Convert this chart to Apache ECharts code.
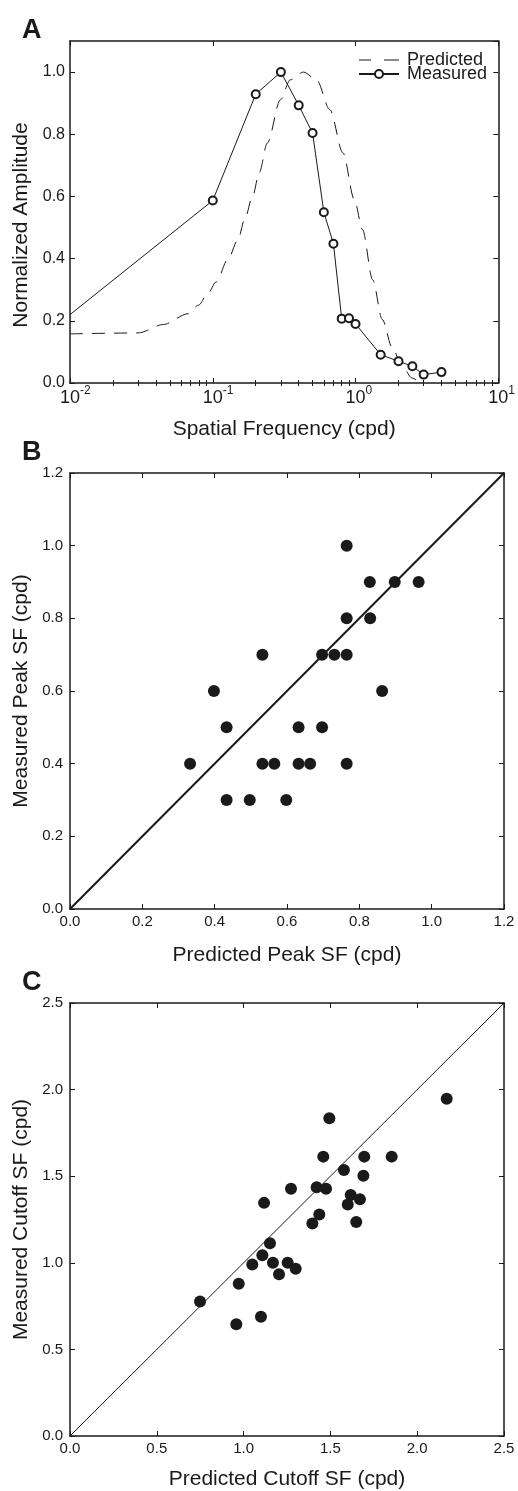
<!DOCTYPE html>
<html>
<head>
<meta charset="utf-8">
<script src="https://cdn.jsdelivr.net/npm/echarts@6/dist/echarts.min.js"></script>
<style>
html,body{margin:0;padding:0;background:#fff;}
#c{width:518px;height:1491px;}
</style>
</head>
<body>
<div id="c"></div>
<script>
// ---- Panel A data ----
const sfMeasured  = [0.01, 0.1, 0.2, 0.3, 0.4, 0.5, 0.6, 0.7, 0.8, 0.9, 1.0, 1.5, 2.0, 2.5, 3.0, 4.0];
const ampMeasured = [0.22, 0.587, 0.929, 1.0, 0.893, 0.804, 0.549, 0.448, 0.207, 0.208, 0.19, 0.091, 0.07, 0.054, 0.027, 0.035];
const sfPredicted  = [0.01, 0.03, 0.045, 0.0674, 0.0792, 0.093, 0.1055, 0.1275, 0.15, 0.167, 0.19, 0.2115, 0.241, 0.298, 0.349, 0.432, 0.534, 0.661, 0.817, 0.982, 1.12, 1.318, 1.54, 1.81, 2.12, 2.49, 2.84];
const ampPredicted = [0.158, 0.161, 0.188, 0.223, 0.25, 0.29, 0.325, 0.397, 0.46, 0.525, 0.60, 0.676, 0.772, 0.911, 0.975, 1.0, 0.975, 0.879, 0.74, 0.589, 0.493, 0.332, 0.204, 0.113, 0.054, 0.016, 0.0];
const minorTicksA = [0.02,0.03,0.04,0.05,0.06,0.07,0.08,0.09,0.2,0.3,0.4,0.5,0.6,0.7,0.8,0.9,2,3,4,5,6,7,8,9];

// ---- Panel B data ----
const predPeak = [0.765,0.829,0.898,0.964,0.765,0.830,0.532,0.697,0.731,0.765,0.398,0.863,0.433,0.632,0.697,0.332,0.532,0.565,0.632,0.664,0.765,0.433,0.497,0.598];
const measPeak = [1.0,0.9,0.9,0.9,0.8,0.8,0.7,0.7,0.7,0.7,0.6,0.6,0.5,0.5,0.5,0.4,0.4,0.4,0.4,0.4,0.4,0.3,0.3,0.3];
const identityB = [[0, 0], [1.2, 1.2]];

// ---- Panel C data ----
const predCut = [2.17,1.494,1.459,1.695,1.853,1.578,1.69,1.273,1.421,1.475,1.617,1.67,1.6,1.118,1.436,1.396,1.649,1.152,1.108,1.05,1.169,1.254,1.3,1.204,0.972,0.749,1.1,0.958];
const measCut = [1.947,1.834,1.613,1.613,1.613,1.536,1.503,1.427,1.436,1.427,1.392,1.367,1.336,1.346,1.279,1.227,1.236,1.113,1.044,0.99,1.0,1.0,0.965,0.934,0.879,0.777,0.689,0.645];
const identityC = [[0, 0], [2.5, 2.5]];

const FONT = '"Liberation Sans", Arial, Helvetica, sans-serif';
const INK = '#1a1a1a';
const lineStyleAx = {color: INK, width: 1.5};
const fmt1 = v => v.toFixed(1);

function mainAxis(grid, pos, o) {
  return Object.assign({
    gridIndex: grid, position: pos, type: 'value',
    axisLine: {show: true, onZero: false, lineStyle: lineStyleAx},
    axisTick: {show: true, inside: true, length: 5, lineStyle: {color: INK, width: 1}},
    axisLabel: {show: true, color: INK, fontFamily: FONT, fontSize: 15, margin: pos === 'left' ? 7 : 5, formatter: fmt1},
    splitLine: {show: false},
    nameLocation: 'middle',
    nameTextStyle: {color: INK, fontFamily: FONT, fontSize: 21},
  }, o);
}
function mirrorAxis(grid, pos, o) {
  return Object.assign({
    gridIndex: grid, position: pos, type: 'value',
    axisLine: {show: true, onZero: false, lineStyle: lineStyleAx},
    axisTick: {show: true, inside: true, length: 5, lineStyle: {color: INK, width: 1}},
    axisLabel: {show: false},
    splitLine: {show: false},
  }, o);
}

function logLabel(v) {
  const e = String(Math.round(Math.log10(v)));
  return '{p|}{b|10}{s|' + e + '}';
}
function supWidth(v) {
  const e = Math.round(Math.log10(v));
  return (e < 0 ? 4.0 : 0) + 6.7;
}

const xAxes = [
  // A
  mainAxis(0, 'bottom', {type: 'log', logBase: 10, min: 0.01, max: 10,
    name: 'Spatial Frequency (cpd)', nameGap: 36,
    axisLabel: {show: true, color: INK, fontFamily: FONT, margin: 2,
      formatter: v => '{p' + (Math.round(Math.log10(v)) < 0 ? 'n' : '') + '|}{b|10}{s|' + Math.round(Math.log10(v)) + '}',
      rich: {b: {fontSize: 18, lineHeight: 26, fontFamily: FONT, color: INK},
             s: {fontSize: 12, lineHeight: 12, fontFamily: FONT, color: INK, verticalAlign: 'top'},
             p: {width: 6.7, fontSize: 12, lineHeight: 12},
             pn: {width: 10.7, fontSize: 12, lineHeight: 12}}}}),
  mirrorAxis(0, 'top', {type: 'log', logBase: 10, min: 0.01, max: 10}),
  mirrorAxis(0, 'bottom', {type: 'log', logBase: 10, min: 0.01, max: 10,
    axisLine: {show: false}, axisTick: {show: true, inside: true, length: 3, customValues: minorTicksA, lineStyle: {color: INK, width: 1}}}),
  mirrorAxis(0, 'top', {type: 'log', logBase: 10, min: 0.01, max: 10,
    axisLine: {show: false}, axisTick: {show: true, inside: true, length: 3, customValues: minorTicksA, lineStyle: {color: INK, width: 1}}}),
  // B
  mainAxis(1, 'bottom', {min: 0, max: 1.2, interval: 0.2, name: 'Predicted Peak SF (cpd)', nameGap: 36}),
  mirrorAxis(1, 'top', {min: 0, max: 1.2, interval: 0.2}),
  // C
  mainAxis(2, 'bottom', {min: 0, max: 2.5, interval: 0.5, name: 'Predicted Cutoff SF (cpd)', nameGap: 33}),
  mirrorAxis(2, 'top', {min: 0, max: 2.5, interval: 0.5}),
];
const yAxes = [
  mainAxis(0, 'left', {min: 0, max: 1.1, interval: 0.2, name: 'Normalized Amplitude', nameGap: 37,
    nameTextStyle: {color: INK, fontFamily: FONT, fontSize: 21, padding: [0, 26, 0, 0]},
    axisLabel: {show: true, color: INK, fontFamily: FONT, fontSize: 16, margin: 5, formatter: fmt1, showMaxLabel: false}}),
  mirrorAxis(0, 'right', {min: 0, max: 1.1, interval: 0.2}),
  mainAxis(1, 'left', {min: 0, max: 1.2, interval: 0.2, name: 'Measured Peak SF (cpd)', nameGap: 37}),
  mirrorAxis(1, 'right', {min: 0, max: 1.2, interval: 0.2}),
  mainAxis(2, 'left', {min: 0, max: 2.5, interval: 0.5, name: 'Measured Cutoff SF (cpd)', nameGap: 37}),
  mirrorAxis(2, 'right', {min: 0, max: 2.5, interval: 0.5}),
];

const measuredData = sfMeasured.map((x, i) => i === 0
  ? {value: [x, ampMeasured[i]], symbol: 'none'}
  : [x, ampMeasured[i]]);
const predictedData = sfPredicted.map((x, i) => [x, ampPredicted[i]]);

const dashedIcon = 'path://M0,0M40,10M0,4.5L12,4.5L12,5.5L0,5.5ZM25,4.5L40,4.5L40,5.5L25,5.5Z';

const option = {
  backgroundColor: '#fff',
  animation: false,
  title: [
    {text: 'A', left: 17, top: 12, textStyle: {fontFamily: FONT, fontSize: 27, fontWeight: 'bold', color: INK}},
    {text: 'B', left: 17, top: 434, textStyle: {fontFamily: FONT, fontSize: 27, fontWeight: 'bold', color: INK}},
    {text: 'C', left: 17, top: 964, textStyle: {fontFamily: FONT, fontSize: 27, fontWeight: 'bold', color: INK}},
  ],
  legend: {
    orient: 'vertical', left: 358, top: 51, padding: 0,
    itemWidth: 40, itemHeight: 10, itemGap: -4,
    symbolKeepAspect: false,
    data: [{name: 'Predicted', icon: dashedIcon, itemStyle: {color: INK, borderWidth: 0}}, 'Measured'],
    textStyle: {fontFamily: FONT, fontSize: 18, lineHeight: 14, color: INK, padding: [0, 0, 0, 3]},
  },
  grid: [
    {left: 70, top: 41, width: 434, height: 342},
    {left: 70, top: 473, width: 434, height: 436},
    {left: 70, top: 1003, width: 434, height: 434},
  ],
  xAxis: xAxes,
  yAxis: yAxes,
  series: [
    {name: 'Predicted', type: 'line', xAxisIndex: 0, yAxisIndex: 0, data: predictedData,
     smooth: 0.3, smoothMonotone: 'x', symbol: 'none', clip: true,
     lineStyle: {color: INK, width: 1, type: [13, 9]}, itemStyle: {color: INK}},
    {name: 'Measured', type: 'line', xAxisIndex: 0, yAxisIndex: 0, data: measuredData,
     symbol: 'emptyCircle', symbolSize: 8, clip: true,
     lineStyle: {color: INK, width: 1}, itemStyle: {color: INK, borderColor: INK, borderWidth: 1}},
    {type: 'line', xAxisIndex: 4, yAxisIndex: 2, data: identityB, symbol: 'none',
     lineStyle: {color: INK, width: 2}, silent: true},
    {type: 'scatter', xAxisIndex: 4, yAxisIndex: 2, data: predPeak.map((x, i) => [x, measPeak[i]]),
     symbolSize: 12, itemStyle: {color: INK, opacity: 1}},
    {type: 'line', xAxisIndex: 6, yAxisIndex: 4, data: identityC, symbol: 'none',
     lineStyle: {color: INK, width: 1}, silent: true},
    {type: 'scatter', xAxisIndex: 6, yAxisIndex: 4, data: predCut.map((x, i) => [x, measCut[i]]),
     symbolSize: 12, itemStyle: {color: INK, opacity: 1}},
  ],
};
const chart = echarts.init(document.getElementById('c'), null, {renderer: 'canvas'});
chart.setOption(option);
</script>
</body>
</html>
